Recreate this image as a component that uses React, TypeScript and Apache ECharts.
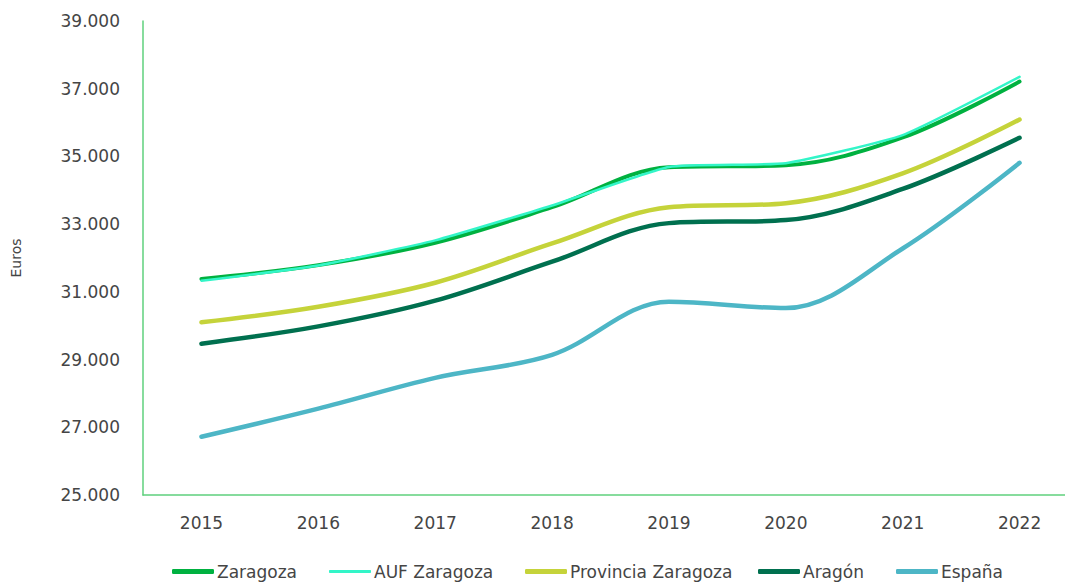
import React, { useEffect, useRef } from "react";
import * as echarts from "echarts";

const years = ["2015", "2016", "2017", "2018", "2019", "2020", "2021", "2022"];
const zaragoza = [31380, 31790, 32450, 33500, 34680, 34740, 35560, 37210];
const aufZaragoza = [31330, 31780, 32520, 33550, 34690, 34800, 35630, 37350];
const provincia = [30100, 30560, 31270, 32430, 33500, 33620, 34500, 36090];
const aragon = [29470, 29980, 30740, 31890, 33030, 33120, 34040, 35550];
const espana = [26720, 27550, 28460, 29140, 30710, 30520, 32280, 34810];
const seriesNames = ["Zaragoza", "AUF Zaragoza", "Provincia Zaragoza", "Aragón", "España"];

const fmt = (v: number) => v.toLocaleString("de-DE").replace(/,/g, ".");

export default function App() {
  const ref = useRef<HTMLDivElement>(null);
  useEffect(() => {
    if (!ref.current) return;
    const chart = echarts.init(ref.current, undefined, { renderer: "svg" });
    const font = "'DejaVu Sans', sans-serif";
    const txt = "#454545";
    const mk = (name: string, data: number[], color: string, width: number, smooth: boolean | number) => ({
      name,
      type: "line",
      data,
      smooth,
      showSymbol: false,
      symbol: "none",
      lineStyle: { color, width, cap: "round" },
      itemStyle: { color },
    });
    const legendLefts = [167, 324, 520, 753, 891];
    const legendHeights = [5, 3, 5, 5, 5];
    const legends = seriesNames.map((n, i) => ({
      left: legendLefts[i],
      top: 558,
      icon: "roundRect",
      itemWidth: 42,
      itemHeight: legendHeights[i],
      textStyle: { fontFamily: font, fontSize: 17, color: txt, padding: [0, 0, 0, -2] },
      data: [n],
    }));
    chart.setOption({
      animation: false,
      grid: { left: 143, top: 21, bottom: 87, width: 935, containLabel: false, outerBoundsMode: "none" },
      legend: legends,
      xAxis: {
        type: "category",
        data: years,
        boundaryGap: true,
        axisLine: { lineStyle: { color: "#5fd07d", width: 1.5 } },
        axisTick: { show: false },
        axisLabel: { color: txt, fontSize: 17, fontFamily: font, margin: 19 },
      },
      yAxis: {
        type: "value",
        min: 25000,
        max: 39000,
        interval: 2000,
        name: "Euros",
        nameLocation: "middle",
        nameGap: 120,
        nameRotate: 90,
        nameTextStyle: { color: txt, fontSize: 14, fontFamily: font },
        axisLine: { show: true, lineStyle: { color: "#5fd07d", width: 1.5 } },
        axisTick: { show: false },
        splitLine: { show: false },
        axisLabel: { color: txt, fontSize: 17, fontFamily: font, margin: 23, formatter: (v: number) => fmt(v) },
      },
      series: [
        mk(seriesNames[0], zaragoza, "#00b140", 4, 0.35),
        mk(seriesNames[1], aufZaragoza, "#33f5c8", 2.5, 0.15),
        mk(seriesNames[2], provincia, "#c5d33a", 4.5, 0.35),
        mk(seriesNames[3], aragon, "#00704f", 4.5, 0.35),
        mk(seriesNames[4], espana, "#4db6c6", 4.5, 0.35),
      ],
    });
    return () => chart.dispose();
  }, []);
  return (
    <div style={{ position: "fixed", left: 0, top: 0, width: 1065, height: 582, overflow: "hidden", background: "#fff" }}>
      <div ref={ref} style={{ width: 1065, height: 582 }} />
    </div>
  );
}
